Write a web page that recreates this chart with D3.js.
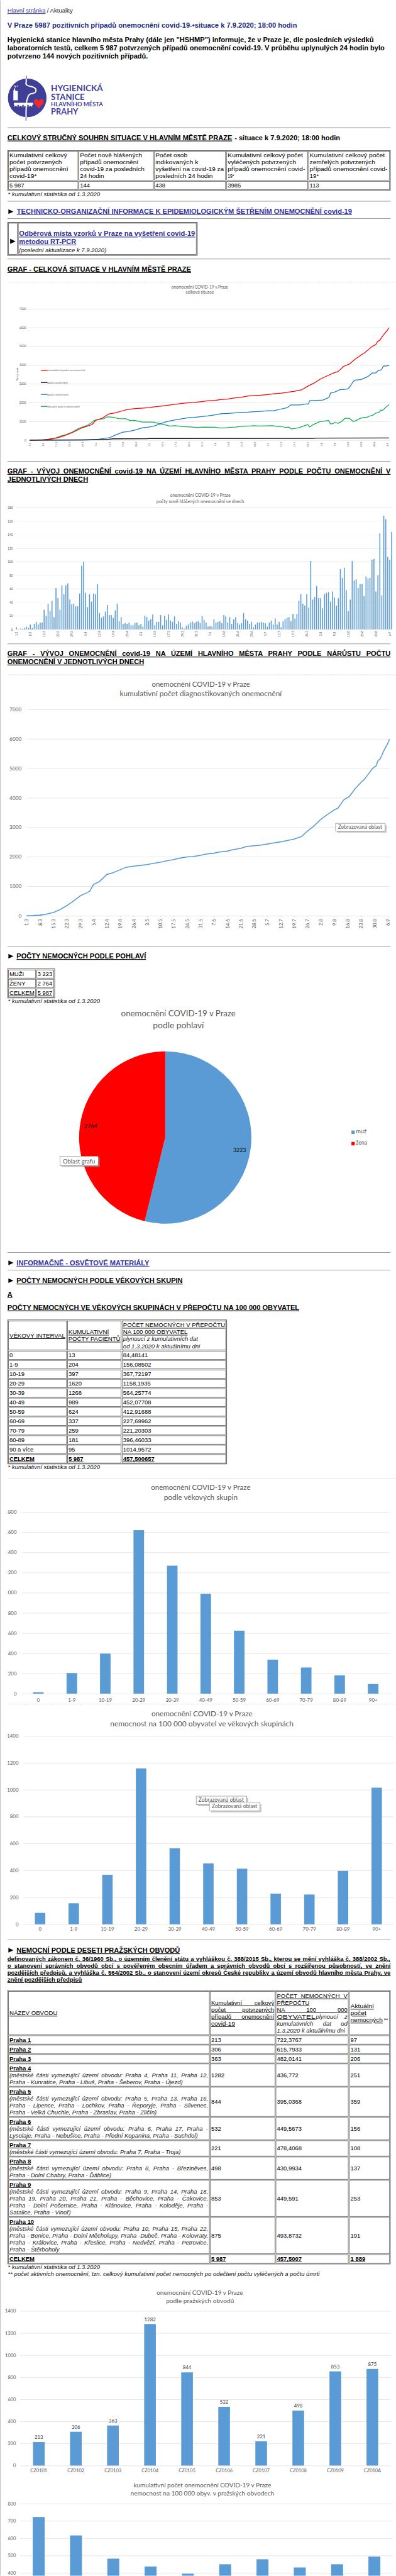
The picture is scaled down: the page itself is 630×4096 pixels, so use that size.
<!DOCTYPE html>
<html lang="cs"><head><meta charset="utf-8">
<script src="https://cdn.jsdelivr.net/npm/d3@7"></script>
<style>html,body{margin:0;padding:0;background:#fff;overflow:hidden}svg{display:block}</style>
</head><body><div id="c"></div>
<script>
// ---------- DATA ----------
const weekLabels = ["1.3","8.3","15.3","22.3","29.3","5.4","12.4","19.4","26.4","3.5","10.5","17.5","24.5","31.5","7.6","14.6","21.6","28.6","5.7","12.7","19.7","26.7","2.8","9.8","16.8","23.8","30.8","6.9"];
const dailyNew = [3,0,1,1,2,4,2,7,2,8,11,7,10,10,29,20,38,27,42,18,61,46,29,65,52,65,68,44,37,38,34,34,53,94,100,54,33,52,41,53,52,67,24,17,19,26,36,21,21,17,28,38,12,18,8,9,8,10,6,6,9,10,6,8,4,20,18,13,15,22,6,11,11,21,6,20,14,22,13,11,19,8,12,10,3,1,5,7,10,12,9,11,12,9,20,14,10,4,5,4,15,10,11,12,9,21,19,10,18,8,15,18,9,7,9,24,15,13,8,11,3,7,10,10,11,10,9,4,10,13,7,16,7,11,3,12,15,17,18,12,23,16,23,42,52,38,35,52,32,101,44,48,64,46,46,31,52,54,55,41,56,47,35,46,89,76,91,58,27,44,101,72,74,61,67,67,49,78,75,76,103,104,56,80,142,50,168,163,107,103,144];
const cumDays = [0,3,7,10,14,17,21,24,28,31,33,35,38,42,45,49,52,56,60,63,66,70,73,77,80,84,87,91,94,98,101,105,108,112,115,119,122,126,129,133,136,140,144,147,150,154,157,161,163,166,169,172,175,177,181,183,184,185,187,189,190];
const cumValues = [0,2,18,45,105,190,340,470,670,760,830,1060,1150,1400,1450,1560,1640,1680,1710,1735,1770,1815,1855,1905,1950,1995,2005,2050,2090,2120,2160,2190,2240,2285,2345,2375,2390,2430,2465,2505,2545,2600,2690,2870,3020,3270,3410,3590,3650,3930,4050,4310,4520,4640,4990,5090,5270,5310,5600,5840,5987];
const recDays = [0,28,35,38,42,45,49,52,56,60,63,66,70,73,77,80,84,87,91,94,98,101,105,108,112,115,119,122,126,129,133,136,138,143,146,147.4,148,155,157.4,158.4,159,161.5,164,168,169,171,172,175,177,179,181,183,184,186,187,189,190];
const recValues = [0,0,20,70,120,255,415,460,545,670,695,760,900,1000,1075,1130,1195,1210,1255,1285,1345,1405,1425,1445,1480,1485,1510,1530,1565,1565,1660,1720,1870,1870,1925,1925,2100,2135,2235,2305,2500,2570,2690,2720,2805,3110,3200,3225,3305,3400,3570,3580,3685,3755,3950,3950,3985];
const actDays = [0,8.5,12.5,16,19,22.5,26,30,32.6,34,37,39,41,44,47,51,53,55.5,59.5,65,70,74,77,81,85,88,92,98,100,104,106,109,111,116.5,118.5,121,128.6,131,133,135,137,138,139,141,143,147,148,149.4,153.4,158,159,160,161.5,163,165,166.6,169,171,172,175,177,178,179.6,181.6,183,184.6,185.6,186.6,188.3,190];
const actValues = [0,25,70,210,280,430,625,765,915,1045,1110,1135,1240,1220,1145,1135,1045,1055,960,960,850,755,765,720,705,680,695,685,650,650,685,695,730,755,765,755,765,730,730,680,695,605,600,630,685,825,695,800,985,1045,870,870,940,895,1000,1160,1160,995,1020,1170,1215,1205,1275,1335,1440,1470,1600,1590,1750,1889];
const deadDays = [0,28,35,42,44,62,63,150,151,190];
const deadValues = [0,15,30,50,70,72,85,88,108,113];
const seriesNames = ["kumulativní počet onemocnění","počet zemřelých","počet vyléčených","aktuální počet nakažených"];
const seriesColors = ["#ff0000","#111111","#1f7ac4","#10ad55"];
const sexNames = ["muž","žena"];
const sexValues = [3223,2764];
const sexColors = ["#5b9bd5","#ff0000"];
const sexTable = [["MUŽI","3 223"],["ŽENY","2 764"],["CELKEM","5 987"]];
const summaryHead = [["Kumulativní celkový","počet potvrzených","případů onemocnění","covid-19*"],["Počet nově hlášených","případů onemocnění","covid-19 za posledních","24 hodin"],["Počet osob","indikovaných k","vyšetření na covid-19 za","posledních 24 hodin"],["Kumulativní celkový počet","vyléčených potvrzených","případů onemocnění covid-","19*"],["Kumulativní celkový počet","zemřelých potvrzených","případů onemocnění covid-","19*"]];
const summaryVals = ["5 987","144","438","3985","113"];
const ageLabels = ["0","1-9","10-19","20-29","30-39","40-49","50-59","60-69","70-79","80-89","90 a více","CELKEM"];
const ageCounts = ["13","204","397","1620","1268","989","624","337","259","181","95","5 987"];
const ageRates = ["84,48141","156,08502","367,72197","1158,1935","564,25774","452,07708","412,91688","227,69962","221,20303","396,46033","1014,9572","457,500657"];
const ageAxis = ["0","1-9","10-19","20-29","30-39","40-49","50-59","60-69","70-79","80-89","90+"];
const districtNames = ["Praha 1","Praha 2","Praha 3","Praha 4","Praha 5","Praha 6","Praha 7","Praha 8","Praha 9","Praha 10","CELKEM"];
const districtCounts = ["213","306","363","1282","844","532","221","498","853","875","5 987"];
const districtRates = ["722,3767","615,7933","482,0141","436,772","395,0368","449,5673","478,4068","430,9934","449,591","493,8732","457,5007"];
const districtActive = ["97","131","206","251","359","156","108","137","253","191","1 889"];
const districtNotes = [[],[],[],
["(městské části vymezující území obvodu: Praha 4, Praha 11, Praha 12,","Praha - Kunratice, Praha - Libuš, Praha - Šeberov, Praha - Újezd)"],
["(městské části vymezující území obvodu: Praha 5, Praha 13, Praha 16,","Praha - Lipence, Praha - Lochkov, Praha - Řeporyje, Praha - Slivenec,","Praha - Velká Chuchle, Praha - Zbraslav, Praha - Zličín)"],
["(městské části vymezující území obvodu: Praha 6, Praha 17, Praha -","Lysolaje, Praha - Nebušice, Praha - Přední Kopanina, Praha - Suchdol)"],
["(městské části vymezující území obvodu: Praha 7, Praha - Troja)"],
["(městské části vymezující území obvodu: Praha 8, Praha - Březiněves,","Praha - Dolní Chabry, Praha - Ďáblice)"],
["(městské části vymezující území obvodu: Praha 9, Praha 14, Praha 18,","Praha 19, Praha 20, Praha 21, Praha - Běchovice, Praha - Čakovice,","Praha - Dolní Počernice, Praha - Klánovice, Praha - Koloděje, Praha -","Satalice, Praha - Vinoř)"],
["(městské části vymezující území obvodu: Praha 10, Praha 15, Praha 22,","Praha - Benice, Praha - Dolní Měcholupy, Praha -Dubeč, Praha - Kolovraty,","Praha - Královice, Praha - Křeslice, Praha - Nedvězí, Praha - Petrovice,","Praha - Štěrboholy"],
[]];
const districtCodes = ["CZ0101","CZ0102","CZ0103","CZ0104","CZ0105","CZ0106","CZ0107","CZ0108","CZ0109","CZ010A"];
const num = s => +s.replace(/\s/g,"").replace(",",".");

// ---------- LAYOUT (not data) ----------
const summaryEnds = [[135.4,125.1,137.9,74.4],[287.2,279.5,291.8,210.3],[378.5,400.5,452.3,429.7],[611.8,598.5,616.4,472.8],[777.4,757.9,782.6,644.1]];
const lastNoteEnds = [0,0,0,369,316.4,399.5,365,225,143,120,0];
const nameWidths = [43.6,43.6,43.6,43.6,43.6,43.6,43.6,43.6,43.6,49.7,50.8];

// ---------- SETUP ----------
const SANS = "'Liberation Sans',Arial,sans-serif", XL = "Lato,'Open Sans',sans-serif";
const BLUE = "#5b9bd5", GREY = "#595959", LINK = "#333399", GRID = "#e2e2e2";
const svg = d3.select("#c").append("svg").attr("width",630).attr("height",4096).attr("viewBox","0 0 800 5200");
svg.append("rect").attr("width",800).attr("height",5200).attr("fill","#fff");
const defs = svg.append("defs");
defs.append("clipPath").attr("id","clipAge").append("rect").attr("x",15).attr("y",3000).attr("width",785).attr("height",460);
defs.append("clipPath").attr("id","clipPage").append("rect").attr("x",0).attr("y",0).attr("width",800).attr("height",5200);
const root = svg.append("g").attr("clip-path","url(#clipPage)");
root.append("rect").attr("x",0).attr("y",0).attr("width",1.4).attr("height",5200).attr("fill","#c4c4c4");

function T(s,x,y,o={}){
  const t = root.append("text").attr("x",x).attr("y",y).text(s)
    .attr("font-family",o.font||SANS).attr("font-size",o.size||12).attr("fill",o.fill||"#000");
  if(o.bold) t.attr("font-weight","bold");
  if(o.italic) t.attr("font-style","italic");
  if(o.u) t.attr("text-decoration","underline");
  if(o.anchor) t.attr("text-anchor",o.anchor);
  if(o.x2!==undefined){
    const w = o.x2-x, nat = t.node().getComputedTextLength();
    const sp = (s.match(/ /g)||[]).length;
    if(o.just && sp) t.attr("word-spacing",(w-nat)/sp);
    else t.attr("textLength",w).attr("lengthAdjust","spacingAndGlyphs");
  }
  return t;
}
const hr = y => root.append("line").attr("x1",15).attr("x2",789).attr("y1",y).attr("y2",y).attr("stroke","#9c9c9c").attr("stroke-width",1.3);
const arrow = (x,y,s=1) => root.append("path").attr("d",`M${x},${y}L${x+10*s},${y+4.7*s}L${x},${y+9.4*s}Z`).attr("fill","#000");
const box = (x0,y0,x1,y1,st="#555") => root.append("rect").attr("x",x0).attr("y",y0).attr("width",x1-x0).attr("height",y1-y0).attr("fill","none").attr("stroke",st).attr("stroke-width",1);
const H = (s,x,y,x2,o={}) => T(s,x,y,Object.assign({bold:true,size:14,u:true,x2},o));
function sheetRule(y,x0,step,dir){
  root.append("line").attr("x1",15).attr("x2",800).attr("y1",y).attr("y2",y).attr("stroke","#e4e4e4").attr("stroke-width",1.2);
  if(step) d3.range(x0,800,step).forEach(x=>root.append("line").attr("x1",x).attr("x2",x).attr("y1",y).attr("y2",y+dir).attr("stroke","#d4d4d4").attr("stroke-width",.8));
}
function tip(x0,y0,x1,y1,s,tx0,tx1,base){
  root.append("rect").attr("x",x0+3).attr("y",y0+3).attr("width",x1-x0).attr("height",y1-y0).attr("fill","#9a9a9a").attr("opacity",.55);
  root.append("rect").attr("x",x0).attr("y",y0).attr("width",x1-x0).attr("height",y1-y0).attr("fill","#fff").attr("stroke","#7a7a7a").attr("stroke-width",.8);
  T(s,tx0,base,{font:XL,size:11,fill:GREY,x2:tx1});
}
function yAxis(scale,vals,x0,x1,pad,size,clip,fill){
  const g = root.append("g").attr("transform",`translate(${x0},0)`)
    .call(d3.axisLeft(scale).tickValues(vals).tickFormat(d3.format("d")).tickSize(-(x1-x0)).tickPadding(pad));
  g.select(".domain").remove();
  g.selectAll("line").attr("stroke",GRID).attr("stroke-width",1.1);
  g.selectAll("text").attr("font-family",XL).attr("font-size",size).attr("fill",fill||GREY);
  if(clip){ const c = root.append("g").attr("clip-path",`url(#${clip})`); c.node().appendChild(g.node()); }
  return g;
}
function dayAxis(scale,yPos,size,off,anchor,tick){
  const g = root.append("g").attr("transform",`translate(0,${yPos})`)
    .call(d3.axisBottom(scale).tickValues(weekLabels.map((_,i)=>i*7)).tickFormat(d=>weekLabels[d/7]).tickSize(tick||0));
  g.select(".domain").remove();
  g.selectAll("line").attr("stroke","#d0d0d0");
  g.selectAll("text").attr("x",0).attr("y",0).attr("dy","0.35em").attr("text-anchor",anchor)
    .attr("transform",`translate(0,${off}) rotate(-90)`).attr("font-family",XL).attr("font-size",size).attr("fill",GREY);
}
function bandAxis(scale,yPos,pad,size){
  const g = root.append("g").attr("transform",`translate(0,${yPos})`).call(d3.axisBottom(scale).tickSize(0).tickPadding(pad));
  g.select(".domain").remove();
  g.selectAll("text").attr("font-family",XL).attr("font-size",size).attr("fill",GREY);
}
function lineOf(xs,ys,sx,sy,color,w){
  const idx = d3.range(xs.length);
  root.append("path").attr("fill","none").attr("stroke",color).attr("stroke-width",w).attr("stroke-linejoin","round")
    .attr("d",d3.line().x(i=>sx(xs[i])).y(i=>sy(ys[i]))(idx));
}
function bars(cats,vals,sx,sy,base){
  root.append("g").selectAll("rect").data(cats).join("rect")
    .attr("x",d=>sx(d)).attr("width",sx.bandwidth())
    .attr("y",(d,i)=>sy(vals[i])).attr("height",(d,i)=>sy(base)-sy(vals[i])).attr("fill",BLUE);
}
const band = (cats,a,b,inner) => d3.scaleBand().domain(cats).range([a,b]).paddingInner(inner).paddingOuter(inner/2);

// ---------- HEADER ----------
T("Hlavní stránka",15,25,{fill:LINK,u:true,x2:92});
T("/ Aktuality",95,25,{x2:147,fill:"#222"});
T("V Praze 5987 pozitivních případů onemocnění covid-19-•situace k 7.9.2020; 18:00 hodin",15,55,{bold:true,size:14,fill:"#1c2c80",x2:600});
[["Hygienická stanice hlavního města Prahy (dále jen \"HSHMP\") informuje, že v Praze je, dle posledních výsledků",85,755],
 ["laboratorních testů, celkem 5 987 potvrzených případů onemocnění covid-19. V průběhu uplynulých 24 hodin bylo",101,777],
 ["potvrzeno 144 nových pozitivních případů.",117,299]].forEach(l=>T(l[0],15,l[1],{bold:true,size:13.33,x2:l[2]}));
// logo
const LOGO="#3f3f98";
root.append("circle").attr("cx",55).attr("cy",197).attr("r",39).attr("fill",LOGO);
root.append("path").attr("d","M53,152V165C50,172 58,173 66,175C76,178 74,187 66,188C56,189 57,195 54,203C52,215 53,230 52.5,243").attr("fill","none").attr("stroke","#fff").attr("stroke-width",2.6);
root.append("path").attr("d","M53,152V159M52.5,236V243").attr("fill","none").attr("stroke",LOGO).attr("stroke-width",1.6);
root.append("path").attr("d","M27,202V183L30,176L31,183H36V202Z").attr("fill","#fff");
root.append("path").attr("d","M30,176l1.5,-4l1.5,4zM28,172h2v2h-2zM34,172h2v2h-2z").attr("fill","#fff");
root.append("path").attr("d","M28,207H67V211H65V216C63,212 60,212 58,216V211H55V216C53,212 50,212 48,216V211H45V216C43,212 40,212 38,216V211H35V216C33,212 31,212 29,216V211H28Z").attr("fill","#fff");
root.append("path").attr("d","M78.5,218C70,210 68,206 68.5,203C69.5,198 76,198 78.5,203C81,198 87.5,198 88.5,203C89,206 87,210 78.5,218Z").attr("fill","#ee2a30");
[["HYGIENICKÁ",184,208,17.5],["STANICE",201,171,17.5],["HLAVNÍHO MĚSTA",214,208,12.5],["PRAHY",230,158,17.5]].forEach(l=>T(l[0],103,l[1],{font:XL,bold:true,size:l[3],fill:LOGO,x2:l[2]}));
hr(257);
H("CELKOVÝ STRUČNÝ SOUHRN SITUACE V HLAVNÍM MĚSTĚ PRAZE",15,282,469);
T("- situace k 7.9.2020; 18:00 hodin",474,282,{bold:true,size:14,x2:687});
// summary table
box(15.5,303.5,788.5,384,"#333");
const sumCols=[[17,157.5],[159.5,310],[312,455.5],[458,621.5],[623.5,787]];
sumCols.forEach((c,j)=>{
  box(c[0],304.7,c[1],363); box(c[0],365.5,c[1],382);
  summaryHead[j].forEach((s,k)=>T(s,c[0]+2,316.7+14*k,{x2:summaryEnds[j][k]}));
  T(summaryVals[j],c[0]+2,377.7);
});
T("* kumulativní statistika od 1.3.2020",16,395,{italic:true,x2:202,fill:"#111"});
hr(405.7);
arrow(17,422);
H("TECHNICKO-ORGANIZAČNÍ INFORMACE K EPIDEMIOLOGICKÝM ŠETŘENÍM ONEMOCNĚNÍ covid-19",34,431,711,{fill:LINK});
hr(440.7);
box(15.5,448.5,398.5,515,"#222");
box(17,450,35,513); box(37,450,396.5,513);
arrow(20.5,481.5,1.1);
H("Odběrová místa vzorků v Praze na vyšetření covid-19",38.5,476,394,{fill:LINK});
H("metodou RT-PCR",38.5,492,154,{fill:LINK});
T("(poslední aktualizace k 7.9.2020)",38.5,508.7,{italic:true,x2:215,fill:"#111"});
hr(522.3);
H("GRAF - CELKOVÁ SITUACE V HLAVNÍM MĚSTĚ PRAZE",15,547.7,386);

// ---------- CHART 1: lines ----------
sheetRule(569,38,32,-1.5);
T("onemocnění COVID-19 v Praze",346,581.7,{font:XL,size:8.5,fill:GREY,x2:461});
T("celková situace",375,593,{font:XL,size:8.5,fill:GREY,x2:432});
const x1 = d3.scaleLinear().domain([0,190]).range([60,786]);
const y1 = d3.scaleLinear().domain([0,7000]).range([888,622.7]);
yAxis(y1,d3.range(0,7001,1000),58,788,5,6);
dayAxis(x1,888,5.4,8.7,"middle");
T("Počet osob",0,0,{font:XL,size:5.5,fill:GREY,anchor:"middle"}).attr("transform","translate(37,755) rotate(-90)").attr("x",0).attr("y",0);
lineOf(actDays,actValues,x1,y1,seriesColors[3],1.6);
lineOf(recDays,recValues,x1,y1,seriesColors[2],1.6);
lineOf(cumDays,cumValues,x1,y1,seriesColors[0],1.6);
lineOf(deadDays,deadValues,x1,y1,seriesColors[1],1.7);
[[747,172],[771.7,137],[795.7,138],[820,161]].forEach((l,i)=>{
  root.append("line").attr("x1",82.6).attr("x2",96).attr("y1",l[0]).attr("y2",l[0]).attr("stroke",seriesColors[i]).attr("stroke-width",1.7);
  T(seriesNames[i],96,l[0]+1.8,{font:XL,size:5.6,fill:GREY,x2:l[1]});
});

// ---------- CHART 2: daily bars ----------
hr(930.7);
H("GRAF - VÝVOJ ONEMOCNĚNÍ covid-19 NA ÚZEMÍ HLAVNÍHO MĚSTA PRAHY PODLE POČTU ONEMOCNĚNÍ V",15,955.3,789,{just:true});
H("JEDNOTLIVÝCH DNECH",15,971.7,178);
T("onemocnění COVID-19 v Praze",343.6,1003,{font:XL,size:9,fill:GREY,x2:465.6});
T("počty nově hlášených onemocnění ve dnech",316,1015.7,{font:XL,size:9,fill:GREY,x2:493});
const x2 = d3.scaleLinear().domain([0,190]).range([33.3,791.3]);
const y2 = d3.scaleLinear().domain([0,180]).range([1270,1024.3]);
const strongGrid = [180,120,100,60,0];
yAxis(y2,d3.range(0,181,20),32,793,6,6).selectAll("line").attr("stroke",d=>strongGrid.includes(d)?"#dedede":"#f3f3f3");
dayAxis(x2,1270,6.2,9.3,"middle");
root.append("g").selectAll("rect").data(dailyNew).join("rect")
  .attr("x",(d,i)=>x2(i)-1).attr("width",2).attr("y",d=>y2(d)).attr("height",d=>y2(0)-y2(d)).attr("fill",BLUE);
hr(1299.3);
H("GRAF - VÝVOJ ONEMOCNĚNÍ covid-19 NA ÚZEMÍ HLAVNÍHO MĚSTA PRAHY PODLE NÁRŮSTU POČTU",15,1324,789,{just:true});
H("ONEMOCNĚNÍ V JEDNOTLIVÝCH DNECH",15,1340,291);

// ---------- CHART 3: cumulative ----------
sheetRule(1362,63,55.5,-1.5);
T("onemocnění COVID-19 v Praze",306.7,1385.7,{font:XL,size:15,fill:GREY,x2:505});
T("kumulativní počet diagnostikovaných onemocnění",242,1405.4,{font:XL,size:15,fill:GREY,x2:569});
const x3 = d3.scaleLinear().domain([0,190]).range([53.8,787]);
const y3 = d3.scaleLinear().domain([0,7000]).range([1848.2,1431.8]);
yAxis(y3,d3.range(0,7001,1000),54,788,10.5,10.5);
dayAxis(x3,1848.2,9.6,7,"end",3);
lineOf(cumDays,cumValues,x3,y3,BLUE,2);
tip(678,1661.8,778,1677.5,"Zobrazovaná oblast",683,772,1673);
hr(1909.7);

// ---------- SEX ----------
arrow(17,1925.5);
H("POČTY NEMOCNÝCH PODLE POHLAVÍ",33.5,1934.7,295);
box(15.5,1955.5,110.5,2014.3,"#333");
sexTable.forEach((r,i)=>{
  const top = 1957.7+19*i;
  box(17,top,72,top+16.6); box(74,top,108.5,top+16.6);
  T(r[0],19,top+12.5,{u:i===2,x2:19+[29.5,32.5,50.8][i]});
  T(r[1],76,top+12.5,{u:i===2,x2:105.5});
});
T("* kumulativní statistika od 1.3.2020",16,2025.3,{italic:true,x2:202,fill:"#111"});
T("onemocnění COVID-19 v Praze",244.6,2051.7,{font:XL,size:17.5,fill:GREY,x2:476});
T("podle pohlaví",309,2075,{font:XL,size:17.5,fill:GREY,x2:412});
const pie = d3.pie().sort(null)(sexValues);
const arc = d3.arc().innerRadius(0).outerRadius(174);
root.append("g").attr("transform","translate(333.8,2296.2)").selectAll("path").data(pie).join("path").attr("d",arc).attr("fill",(d,i)=>sexColors[i]);
T(String(sexValues[0]),471,2326,{font:XL,size:11.5,x2:497});
T(String(sexValues[1]),170,2277,{font:XL,size:11.5,x2:197});
[[2282,2288,740.5],[2305,2311,742]].forEach((l,i)=>{
  root.append("rect").attr("x",710).attr("y",l[0]).attr("width",6.6).attr("height",7).attr("fill",sexColors[i]);
  T(sexNames[i],719,l[1],{font:XL,size:11,fill:GREY,x2:l[2]});
});
tip(121,2334,198.5,2353,"Oblast grafu",127,192,2348);
hr(2528.3);

// ---------- AGE ----------
arrow(17,2544.5);
H("INFORMAČNĚ - OSVĚTOVÉ MATERIÁLY",33.5,2554,301.5,{fill:LINK});
hr(2563.7);
arrow(17,2580.5);
H("POČTY NEMOCNÝCH PODLE VĚKOVÝCH SKUPIN",33.5,2590,369);
H("A",15,2617.3,25);
H("POČTY NEMOCNÝCH VE VĚKOVÝCH SKUPINÁCH V PŘEPOČTU NA 100 000 OBYVATEL",15,2644,604.6);
box(15.5,2664.5,458,2955.3,"#333");
const ageCols=[[17,134.4],[136.4,244.6],[246.7,456]];
ageCols.forEach(c=>box(c[0],2666.7,c[1],2725.3));
T("VĚKOVÝ INTERVAL",19,2700.3,{u:true,x2:132});
T("KUMULATIVNÍ",138,2693.3,{u:true,x2:220});
T("POČTY PACIENTŮ",138,2707.3,{u:true,x2:243});
T("POČET NEMOCNÝCH V PŘEPOČTU",248.7,2679.3,{u:true,x2:454.7});
T("NA 100 000 OBYVATEL",248.7,2693.3,{u:true,x2:379});
T("plynoucí z kumulativních dat",248.7,2707.3,{italic:true,x2:400,fill:"#222"});
T("od 1.3.2020 k aktuálnímu dni",248.7,2721.3,{italic:true,x2:404,fill:"#222"});
ageLabels.forEach((lab,i)=>{
  const top=2727.3+19*i, last=i===ageLabels.length-1;
  ageCols.forEach(c=>box(c[0],top,c[1],top+17));
  [lab,ageCounts[i],ageRates[i]].forEach((s,j)=>T(s,ageCols[j][0]+2,top+12.7,{u:last,bold:last}));
});
T("* kumulativní statistika od 1.3.2020",16,2966,{italic:true,x2:202,fill:"#111"});
sheetRule(2984.3);
T("onemocnění COVID-19 v Praze",305,3007.7,{font:XL,size:15,fill:GREY,x2:506});
T("podle věkových skupin",331,3027.7,{font:XL,size:15,fill:GREY,x2:480});
const yA = d3.scaleLinear().domain([0,1800]).range([3419,3052.3]);
yAxis(yA,d3.range(0,1801,200),43.6,787.7,10,10,"clipAge");
const xA = band(ageAxis,43.6,787.7,.685);
bars(ageAxis,ageCounts.slice(0,11).map(num),xA,yA,0);
bandAxis(xA,3419,9,10);
sheetRule(3440,51.3,56,2.5);
T("onemocnění COVID-19 v Praze",306,3465,{font:XL,size:15,fill:GREY,x2:510});
T("nemocnost na 100 000 obyvatel ve věkových skupinách",222.5,3485,{font:XL,size:15,fill:GREY,x2:593});
const yR = d3.scaleLinear().domain([0,1400]).range([3884.7,3504.3]);
yAxis(yR,d3.range(0,1401,200),47,795,9.6,10);
const xR = band(ageAxis,47,795,.69);
bars(ageAxis,ageRates.slice(0,11).map(num),xR,yR,0);
bandAxis(xR,3884.7,6.5,10);
tip(396.4,3626,498.5,3643.3,"Zobrazovaná oblast",401,492.5,3637.7);
tip(423,3638.3,525,3655.7,"Zobrazovaná oblast",428,519.5,3650);
hr(3916.3);

// ---------- DISTRICTS ----------
arrow(17,3932.5);
H("NEMOCNÍ PODLE DESETI PRAŽSKÝCH OBVODŮ",33.5,3942.3,363.6);
[["definovaných zákonem č. 36/1960 Sb., o územním členění státu a vyhláškou  č. 388/2015 Sb., kterou se mění vyhláška č. 388/2002 Sb.,",789],
 ["o stanovení správních obvodů obcí s pověřeným obecním úřadem a správních obvodů obcí s rozšířenou působností, ve znění",789],
 ["pozdějších předpisů, a vyhláška č. 564/2002 Sb., o stanovení území okresů České republiky a území obvodů hlavního města Prahy, ve",789],
 ["znění pozdějších předpisů",165.6]].forEach((l,i)=>T(l[0],15,3958.7+14*i,{u:true,bold:true,x2:l[1],just:i<3}));
box(15.5,4017.7,788.5,4570.7,"#444");
const dCols=[[17,423],[424.6,555.4],[557.4,703.6],[706,787]];
dCols.forEach(c=>box(c[0],4020.3,c[1],4107.7));
T("NÁZEV OBVODU",19,4068.3,{u:true,x2:116});
T("Kumulativní celkový",426.6,4047.3,{u:true,x2:553.8,just:true});
T("počet potvrzených",426.6,4061.3,{u:true,x2:553.8,just:true});
T("případů onemocnění",426.6,4075.3,{u:true,x2:553.8,just:true});
T("covid-19",426.6,4089.3,{u:true,x2:475});
T("POČET NEMOCNÝCH V",559.4,4033.3,{u:true,x2:702,just:true});
T("PŘEPOČTU",559.4,4047.3,{u:true,x2:625});
T("NA 100 000",559.4,4061.3,{u:true,x2:702,just:true});
T("OBYVATEL",559.4,4075.3,{u:true,x2:637});
T("plynoucí z",638,4075.3,{italic:true,x2:702,just:true,fill:"#222"});
T("kumulativních dat od",559.4,4089.3,{italic:true,x2:702,just:true,fill:"#222"});
T("1.3.2020 k aktuálnímu dni",559.4,4103.3,{italic:true,x2:697,fill:"#222"});
T("Aktuální",708,4054.3,{u:true,x2:755.5});
T("počet",708,4068.3,{u:true,x2:740});
T("nemocných",708,4082.3,{u:true,x2:773});
T("**",775.5,4082.3,{x2:784});
let rowTop = 4109.7;
districtNames.forEach((name,i)=>{
  const notes = districtNotes[i], lines = 1+notes.length, h = 3+14*lines;
  dCols.forEach(c=>box(c[0],rowTop,c[1],rowTop+h));
  const last = i===districtNames.length-1;
  T(name,19,rowTop+12.7,{u:true,bold:true,x2:19+nameWidths[i]});
  notes.forEach((s,k)=>{
    const isLast = k===notes.length-1;
    T(s,19,rowTop+26.7+14*k,{italic:true,fill:"#222",x2:isLast?lastNoteEnds[i]:420.5,just:!isLast});
  });
  const by = rowTop+h/2+4;
  [districtCounts[i],districtRates[i],districtActive[i]].forEach((s,j)=>T(s,dCols[j+1][0]+2,by,{u:last,bold:last}));
  rowTop += h+2;
});
T("* kumulativní statistika od 1.3.2020",16,4581,{italic:true,x2:202,fill:"#111"});
T("** počet aktivních onemocnění, tzn. celkový kumulativní počet nemocných po odečtení počtu vyléčených a počtu úmrtí",16,4595,{italic:true,x2:646,fill:"#111"});

// ---------- CHART 6 ----------
T("onemocnění COVID-19 v Praze",316.4,4632.7,{font:XL,size:13,fill:GREY,x2:490.8});
T("podle pražských obvodů",335.4,4650,{font:XL,size:13,fill:GREY,x2:472.8});
const yD = d3.scaleLinear().domain([0,1400]).range([4977.7,4665.5]);
yAxis(yD,d3.range(0,1401,200),41,789.7,8.7,9.5);
const xD = band(districtCodes,41,789.7,.685);
const dCounts = districtCounts.slice(0,10).map(num);
bars(districtCodes,dCounts,xD,yD,0);
dCounts.forEach((v,i)=>T(String(v),xD(districtCodes[i])+xD.bandwidth()/2,yD(v)-6,{font:XL,size:10,fill:"#404040",anchor:"middle"}));
bandAxis(xD,4977.7,7,9.5);
// ---------- CHART 7 ----------
T("kumulativní počet onemocnění COVID-19 v Praze",269.7,5021,{font:XL,size:13,fill:GREY,x2:547.7});
T("nemocnost na 100 000 obyv. v pražských obvodech",263.6,5038.3,{font:XL,size:13,fill:GREY,x2:553.8});
const yP = d3.scaleLinear().domain([0,800]).range([5334.3,5054.3]);
yAxis(yP,d3.range(400,801,100),40.5,794,8.2,9.5);
const xP = band(districtCodes,40.5,794,.68);
bars(districtCodes,districtRates.slice(0,10).map(num),xP,yP,0);
</script></body></html>
